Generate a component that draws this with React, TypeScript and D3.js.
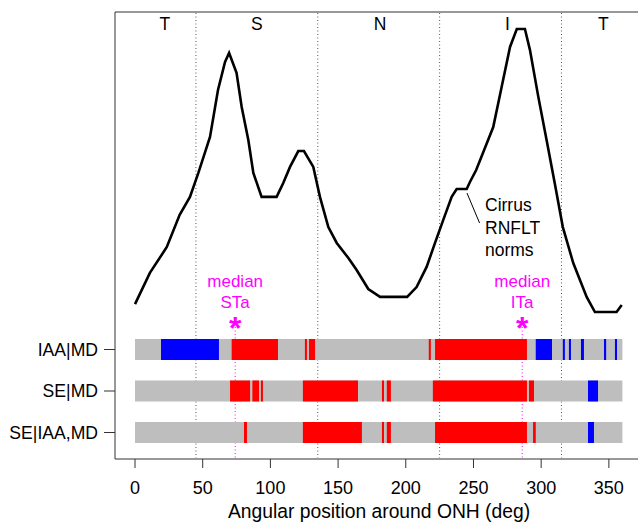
import React from "react";
import * as d3 from "d3";

// Cirrus RNFLT norm profile (deg, microns)
const DEG = [0, 11, 23.5, 33, 40.6, 46.8, 55.4, 61.3, 66.5, 69.5, 75, 78.8, 83.7, 87.4, 93.5, 104.6, 109.5, 114.5, 120.6, 124.8, 131.7, 136.6, 142.8, 149, 157.6, 163.7, 172.3, 181, 201, 208, 215.4, 221.6, 227.7, 233.9, 237.6, 245, 247.4, 252, 257, 264.6, 270.8, 277, 282, 288, 291.7, 297.9, 304, 310, 316, 323.7, 333.6, 339.7, 355.7, 359.5];
const RNFLT = [48.3, 61.3, 72.1, 85.5, 93.0, 103.0, 118.0, 137.6, 149.3, 153.0, 144.7, 130.5, 116.7, 103.0, 93.0, 93.0, 98.8, 105.5, 112.1, 112.1, 105.5, 93.0, 80.4, 73.8, 67.5, 62.5, 54.6, 51.3, 51.3, 55.4, 63.8, 73.8, 83.4, 93.0, 96.3, 96.3, 99.2, 104.2, 111.3, 122.1, 138.8, 155.5, 163.0, 163.0, 154.3, 134.7, 116.7, 98.8, 80.4, 65.4, 51.3, 45, 45, 47.9];

const SECTOR_LABELS = ["T", "S", "N", "I", "T"];
const SECTOR_LABEL_DEG = [22, 90, 181, 275, 346];
const SECTOR_BOUNDS = [45, 135, 225, 315];
const X_TICKS = [0, 50, 100, 150, 200, 250, 300, 350];
const ROW_LABELS = ["IAA|MD", "SE|MD", "SE|IAA,MD"];

// significant segments: [start deg, end deg, type]  (type: "pos" red, "neg" blue)
const ROW1_SEGS: [number, number, string][] = [
  [19.2, 62, "neg"], [71.4, 105.6, "pos"], [125.5, 127, "pos"], [128.5, 133, "pos"],
  [217, 218.5, "pos"], [221.6, 289.5, "pos"], [296, 308, "neg"], [316, 317.5, "neg"],
  [320.5, 322, "neg"], [329.4, 331.6, "neg"], [346.4, 348, "neg"], [354.5, 356, "neg"],
];
const ROW2_SEGS: [number, number, string][] = [
  [70.2, 85, "pos"], [86.7, 91.6, "pos"], [93, 94.5, "pos"], [124, 164.7, "pos"],
  [182.4, 183.9, "pos"], [186, 189, "pos"], [220, 289.5, "pos"], [291, 294.7, "pos"],
  [334.6, 342, "neg"],
];
const ROW3_SEGS: [number, number, string][] = [
  [80.5, 82.7, "pos"], [124, 167.6, "pos"], [182.4, 183.9, "pos"], [186, 189, "pos"],
  [221.6, 289.5, "pos"], [294, 296, "pos"], [334.6, 339, "neg"],
];
const ROWS = [ROW1_SEGS, ROW2_SEGS, ROW3_SEGS];

const MEDIAN_DEG = [74, 286];
const MEDIAN_NAMES = ["STa", "ITa"];

const FONT = "'Liberation Sans', Arial, Helvetica, sans-serif";
const FS = 17;

export default function App() {
  const W = 638, H = 524;
  const frameL = 115, frameT = 12, frameB = 459;
  const x = d3.scaleLinear().domain([0, 360]).range([135, 622.4]);
  const y = d3.scaleLinear().domain([45, 163]).range([312, 29]);
  const rowY = d3.scaleLinear().domain([0, 2]).range([349.5, 432.5]);
  const barH = 21;
  const colors: Record<string, string> = { pos: "#FF0000", neg: "#0000FF" };

  const line = d3.line<number>().x((_, i) => x(DEG[i])).y((v) => y(v));
  const path = line(RNFLT) || "";

  return (
    <svg width={W} height={H} style={{ position: "absolute", left: 0, top: 0 }} fontFamily={FONT}>
      <rect x={0} y={0} width={W} height={H} fill="#fff" />
      {/* frame */}
      <line x1={frameL} y1={frameT} x2={W + 5} y2={frameT} stroke="#333" strokeWidth={1} />
      <line x1={frameL} y1={frameT} x2={frameL} y2={frameB} stroke="#333" strokeWidth={1} />
      <line x1={frameL} y1={frameB} x2={W + 5} y2={frameB} stroke="#333" strokeWidth={1} />

      {/* sector boundaries */}
      {SECTOR_BOUNDS.map((d) => (
        <line key={"sb" + d} x1={x(d)} x2={x(d)} y1={frameT + 1} y2={frameB - 1} stroke="#555" strokeWidth={1} strokeDasharray="1,2.5" />
      ))}
      {/* median lines */}
      {MEDIAN_DEG.map((d) => (
        <line key={"md" + d} x1={x(d)} x2={x(d)} y1={327} y2={frameB - 1} stroke="#FF00FF" strokeWidth={1} strokeDasharray="1,2.5" />
      ))}

      {/* sector labels */}
      {SECTOR_LABELS.map((s, i) => (
        <text key={"sl" + i} x={x(SECTOR_LABEL_DEG[i])} y={30} fontSize={FS + 0.5} textAnchor="middle" fill="#000">{s}</text>
      ))}

      {/* RNFLT norm curve */}
      <path d={path} fill="none" stroke="#000" strokeWidth={2.6} strokeLinejoin="miter" />
      <line x1={x(245.2)} y1={y(94.6)} x2={x(254.5)} y2={y(82.1)} stroke="#000" strokeWidth={1} />
      <text x={485} fontSize={FS + 0.5} fill="#000">
        <tspan x={485} y={211}>Cirrus</tspan>
        <tspan x={485} y={233.5}>RNFLT</tspan>
        <tspan x={485} y={256}>norms</tspan>
      </text>

      {/* median annotations */}
      {MEDIAN_DEG.map((d, i) => (
        <g key={"ma" + i}>
          <text x={x(d)} y={287} fontSize={FS} textAnchor="middle" fill="#FF00FF">median</text>
          <text x={x(d)} y={308} fontSize={FS} textAnchor="middle" fill="#FF00FF">{MEDIAN_NAMES[i]}</text>
          <text x={x(d)} y={339} fontSize={32} fontWeight="bold" textAnchor="middle" fill="#FF00FF">*</text>
        </g>
      ))}

      {/* bars */}
      {ROWS.map((segs, r) => (
        <g key={"row" + r}>
          <rect x={x(0)} y={rowY(r) - barH / 2} width={x(360) - x(0)} height={barH} fill="#BEBEBE" />
          {segs.map((s, j) => (
            <rect key={j} x={x(s[0])} y={rowY(r) - barH / 2} width={x(s[1]) - x(s[0])} height={barH} fill={colors[s[2]]} />
          ))}
          <line x1={104} x2={frameL} y1={rowY(r)} y2={rowY(r)} stroke="#333" strokeWidth={1} />
          <text x={98} y={rowY(r) + 6} fontSize={17.6} textAnchor="end" fill="#000">{ROW_LABELS[r]}</text>
        </g>
      ))}

      {/* x axis ticks */}
      {X_TICKS.map((t) => (
        <g key={"xt" + t}>
          <line x1={x(t)} x2={x(t)} y1={frameB} y2={frameB + 9} stroke="#333" strokeWidth={1} />
          <text x={x(t)} y={494} fontSize={18} textAnchor="middle" fill="#000">{t}</text>
        </g>
      ))}
      <text x={379} y={518} fontSize={19.3} textAnchor="middle" fill="#000">Angular position around ONH (deg)</text>
    </svg>
  );
}
